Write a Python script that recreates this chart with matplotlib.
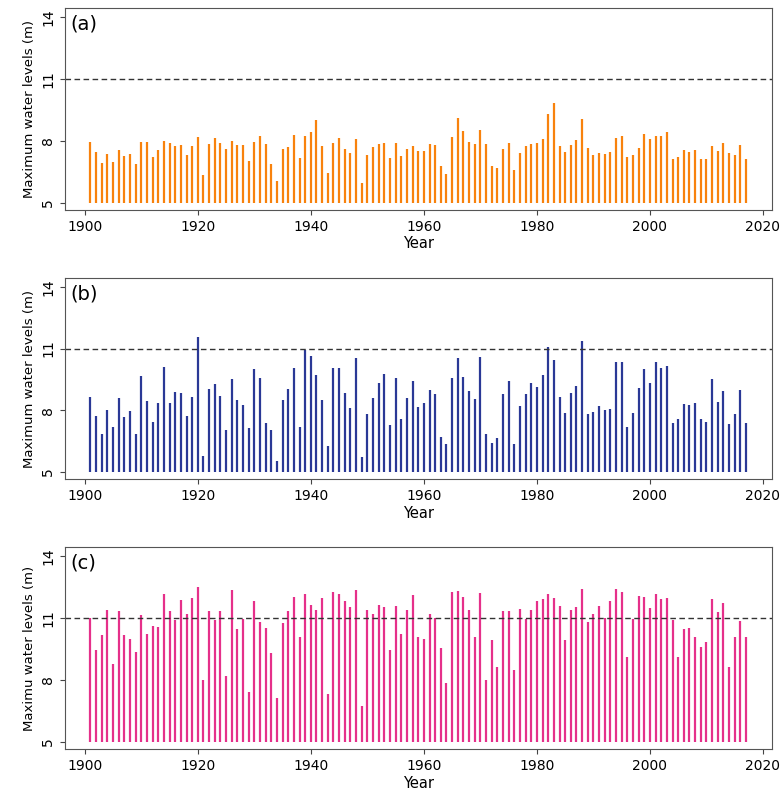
import matplotlib
matplotlib.use("Agg")
import matplotlib.pyplot as plt
import numpy as np

years = list(range(1901, 2018))

level_a = [7.94,7.45,6.92,7.35,6.97,7.58,7.27,7.35,6.89,7.94,7.94,7.23,7.58,8.0,7.89,7.76,7.79,7.32,7.76,8.19,
           6.35,7.84,8.15,7.92,7.61,7.98,7.79,7.79,7.02,7.97,8.23,7.84,6.89,6.06,7.61,7.71,8.27,7.19,8.23,8.45,
           9.02,7.77,6.45,7.89,8.15,7.63,7.4,8.1,5.98,7.32,7.71,7.85,7.89,7.19,7.89,7.29,7.63,7.76,7.5,7.5,
           7.85,7.79,6.81,6.42,8.19,9.11,8.48,7.97,7.85,8.53,7.85,6.81,6.71,7.63,7.89,6.58,7.4,7.76,7.85,7.89,
           8.1,9.31,9.82,7.76,7.45,7.81,8.06,9.06,7.66,7.32,7.4,7.35,7.45,8.16,8.24,7.24,7.32,7.66,8.32,8.1,
           8.24,8.24,8.45,7.15,7.24,7.58,7.45,7.58,7.15,7.15,7.76,7.53,7.89,7.4,7.32,7.79,7.15]

level_b = [8.63,7.73,6.85,8.02,7.19,8.58,7.68,7.97,6.85,9.66,8.45,7.45,8.37,10.1,8.37,8.89,8.84,7.73,8.63,11.58,
           5.76,9.02,9.27,8.71,7.06,9.5,8.5,8.27,7.16,10.0,9.58,7.37,7.06,5.55,8.5,9.02,10.05,7.19,10.92,10.66,
           9.71,8.5,6.27,10.05,10.05,8.84,8.1,10.56,5.71,7.81,8.58,9.32,9.74,7.27,9.58,7.58,8.58,9.4,8.15,8.35,
           8.97,8.79,6.68,6.37,9.58,10.56,9.61,8.92,8.53,10.6,6.84,6.42,6.66,8.79,9.4,6.37,8.19,8.79,9.35,9.15,
           9.71,11.1,10.45,8.63,7.89,8.84,9.18,11.35,7.81,7.94,8.19,8.02,8.06,10.37,10.37,7.19,7.89,9.06,10.02,9.35,
           10.37,10.05,10.15,7.37,7.58,8.32,8.27,8.35,7.58,7.42,9.5,8.4,8.92,7.32,7.84,8.97,7.37]

level_c = [11.0,9.47,10.15,11.4,8.79,11.32,10.19,9.97,9.37,11.15,10.23,10.63,10.58,12.15,11.32,10.89,11.89,11.18,11.94,12.48,
           8.02,11.35,10.89,11.35,8.18,12.35,10.45,10.94,7.4,11.84,10.79,10.53,9.31,7.11,10.76,11.35,12.0,10.06,12.15,11.61,
           11.4,11.97,7.32,12.27,12.15,11.84,11.53,12.35,6.73,11.4,11.18,11.61,11.53,9.45,11.56,10.23,11.4,12.1,10.06,9.97,
           11.18,11.0,9.53,7.84,12.23,12.31,12.0,11.4,10.1,12.19,8.02,9.92,8.63,11.35,11.35,8.5,11.45,10.97,11.4,11.84,
           11.92,12.18,11.97,11.58,9.92,11.4,11.53,12.4,10.79,11.18,11.58,11.0,11.84,12.4,12.27,9.1,10.97,12.05,12.0,11.48,
           12.18,11.92,11.97,10.89,9.1,10.48,10.53,10.1,9.58,9.84,11.92,11.27,11.74,8.63,10.1,10.84,10.1]

panels = ["(a)", "(b)", "(c)"]
ylabels = ["Maximum water levels (m)", "Maximum water levels (m)", "Maximu water levels (m)"]
colors = ["#f8820d", "#2a3896", "#e5308a"]
series = [level_a, level_b, level_c]
xticks = [1900, 1920, 1940, 1960, 1980, 2000, 2020]
yticks = [5, 8, 11, 14]
threshold = 11

W, H = 780, 794
fig = plt.figure(figsize=(W/100, H/100), dpi=100)
boxes = [(8, 210), (278, 479), (547, 749)]
left, right = 65, 772
for i, (top, bot) in enumerate(boxes):
    ax = fig.add_axes([left/W, 1-bot/H, (right-left)/W, (bot-top)/H])
    ax.vlines(years, 5, series[i], color=colors[i], linewidth=1.6)
    ax.axhline(threshold, color="#333333", linestyle=(0, (4, 2.5)), linewidth=1)
    ax.set_xlim(1896.5, 2021.6)
    ax.set_ylim(4.66, 14.43)
    ax.set_xticks(xticks)
    ax.set_yticks(yticks)
    ax.tick_params(labelsize=10, color="#444444")
    for lab in ax.get_yticklabels():
        lab.set_rotation(90)
        lab.set_va("center")
    for s in ax.spines.values():
        s.set_color("#555555")
    ax.set_xlabel("Year", fontsize=10.5, labelpad=2)
    ax.set_ylabel(ylabels[i], fontsize=9.5, labelpad=4)
    ax.text(0.008, 0.97, panels[i], transform=ax.transAxes, fontsize=14, va="top", ha="left")

fig.savefig("out.png", dpi=100)
